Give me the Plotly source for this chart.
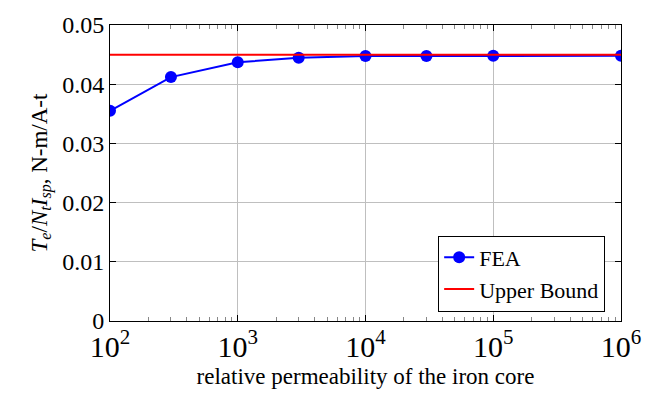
import plotly.graph_objects as go

mu_r = [100, 300, 1000, 3000, 10000, 30000, 100000, 1000000]
fea = [0.0355, 0.0412, 0.0437, 0.04445, 0.04475, 0.04478, 0.0448, 0.0448]
bound_x = [100, 1000000]
bound_y = [0.04497, 0.04497]

font = "Liberation Serif"

fig = go.Figure()
fig.add_trace(go.Scatter(x=mu_r, y=fea, mode="lines+markers", name="FEA",
                         line=dict(color="#0000ff", width=2),
                         marker=dict(color="#0000ff", size=12)))
fig.add_trace(go.Scatter(x=bound_x, y=bound_y, mode="lines", name="Upper Bound",
                         line=dict(color="#ff0000", width=2)))

fig.update_layout(width=653, height=397, margin=dict(l=110, r=20, t=18, b=76),
                  plot_bgcolor="white", paper_bgcolor="white",
                  showlegend=True,
                  legend=dict(x=0.969, y=0.032, xanchor="right", yanchor="bottom",
                              bgcolor="white", bordercolor="black", borderwidth=1,
                              font=dict(family=font, size=22, color="black"),
                              tracegroupgap=0))

fig.update_xaxes(type="log", range=[2, 6], dtick=1, exponentformat="power",
                 ticklabeloverflow="allow",
                 showline=True, linecolor="black", linewidth=1, mirror="ticks",
                 ticks="inside", tickcolor="black", ticklen=6,
                 showgrid=True, gridcolor="#bfbfbf", gridwidth=1, zeroline=False,
                 minor=dict(ticks="inside", ticklen=4, tickcolor="#888888", showgrid=False),
                 title=dict(text="relative permeability of the iron core",
                            font=dict(family=font, size=23, color="black"), standoff=6))
fig.update_yaxes(range=[0, 0.05], dtick=0.01,
                 showline=True, linecolor="black", linewidth=1, mirror="ticks",
                 ticks="inside", tickcolor="black", ticklen=6,
                 showgrid=True, gridcolor="#bfbfbf", gridwidth=1, zeroline=False,
                 title=dict(text="<i>T</i><sub><i>e</i></sub>/<i>N</i><sub><i>t</i></sub><i>I</i><sub><i>sp</i></sub>, N-m/A-t",
                            font=dict(family=font, size=23, color="black"), standoff=8))

fig.update_xaxes(tickfont=dict(family=font, size=24, color="black"))
fig.update_yaxes(tickfont=dict(family=font, size=24, color="black"))

fig.write_html("out.html")
